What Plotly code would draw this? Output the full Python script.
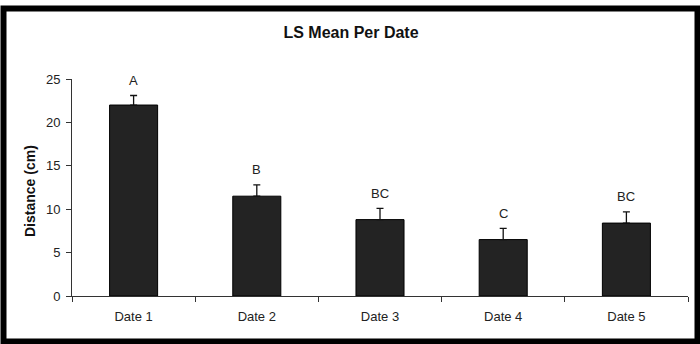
import plotly.graph_objects as go

categories = ["Date 1", "Date 2", "Date 3", "Date 4", "Date 5"]
means = [22.0, 11.5, 8.8, 6.5, 8.4]
errors = [1.1, 1.3, 1.3, 1.3, 1.3]
letters = ["A", "B", "BC", "C", "BC"]
y_ticks = [0, 5, 10, 15, 20, 25]

W, H = 700, 344
L, R, T, B = 72, 12, 79, 48
pw, ph = W - L - R, H - T - B

def px_x(px):
    return (px - L) / pw

def px_y(py):
    return (H - B - py) / ph

FONT = "Liberation Sans, Arial"

fig = go.Figure()
fig.add_trace(go.Bar(
    x=categories, y=means,
    marker=dict(color="#232323", line=dict(color="#000000", width=1)),
    error_y=dict(type="data", array=errors, arrayminus=[0]*len(errors), symmetric=False,
                 color="#111111", thickness=1.3, width=3.5),
    width=0.39,
))

for c, m, e, t in zip(categories, means, errors, letters):
    fig.add_annotation(x=c, y=m + e, text=t, showarrow=False, yshift=15,
                       font=dict(family=FONT, size=13, color="#222222"))

fig.add_annotation(xref="paper", yref="paper", x=px_x(30), y=px_y(191),
                   text="<b>Distance (cm)</b>", textangle=-90, showarrow=False,
                   xanchor="center", yanchor="middle",
                   font=dict(family=FONT, size=14, color="#111111"))

fig.add_shape(type="rect", xref="paper", yref="paper",
              x0=px_x(3.5), x1=px_x(697.5), y0=px_y(8.5), y1=px_y(341.5),
              line=dict(color="#000000", width=6), layer="above")

fig.update_layout(
    width=W, height=H,
    margin=dict(l=L, r=R, t=T, b=B),
    paper_bgcolor="white", plot_bgcolor="white",
    showlegend=False,
    title=dict(text="<b>LS Mean Per Date</b>", x=351 / W, xanchor="center",
               y=1 - 32 / H, yanchor="middle",
               font=dict(family=FONT, size=16, color="#111111")),
    font=dict(family=FONT, size=13, color="#222222"),
)
fig.update_xaxes(showline=True, linecolor="#333333", linewidth=1,
                 ticks="outside", tickson="boundaries", ticklen=5, tickcolor="#333333",
                 ticklabelstandoff=8,
                 showgrid=False, tickfont=dict(size=13, color="#222222"))
fig.update_yaxes(range=[0, 25], tickvals=y_ticks, showline=True, linecolor="#333333", linewidth=1,
                 ticks="outside", ticklen=5, tickcolor="#333333", showgrid=False, zeroline=False,
                 ticklabelstandoff=3,
                 tickfont=dict(size=13, color="#222222"))

fig.write_html("out.html", config={"displayModeBar": False},
               post_script="document.body.style.margin='0';")
